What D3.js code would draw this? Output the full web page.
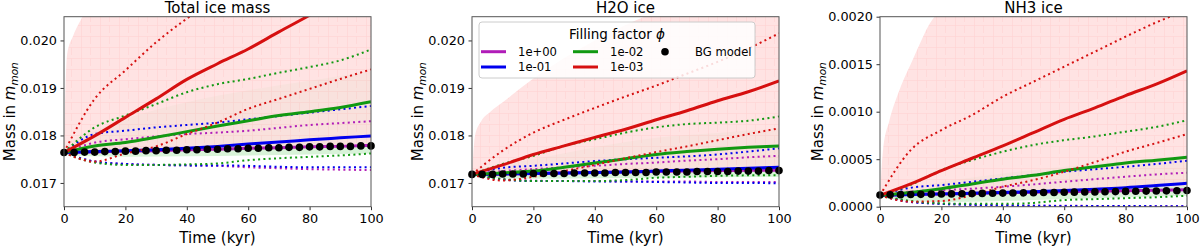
<!DOCTYPE html>
<html>
<head>
<meta charset="utf-8">
<script src="https://cdn.jsdelivr.net/npm/d3@7"></script>
<style>
  body { margin: 0; background: #fff; }
  svg { display: block; font-family: "DejaVu Sans", sans-serif; }
</style>
</head>
<body>
<svg id="chart" width="1200" height="246"></svg>
<script>
// ---- data ----
var time = [0, 10, 20, 30, 40, 50, 60, 70, 80, 90, 100];
var bgTime = [0, 3.3, 6.7, 10, 13.3, 16.7, 20, 23.3, 26.7, 30, 33.3, 36.7, 40, 43.3, 46.7, 50,
              53.3, 56.7, 60, 63.3, 66.7, 70, 73.3, 76.7, 80, 83.3, 86.7, 90, 93.3, 96.7, 100];
var envTime = [0, 1, 3, 6, 10, 20, 40, 60, 80, 100];

var phiLabels = ['1e+00', '1e-01', '1e-02', '1e-03'];
var phiColors = ['#b01cb8', '#0000ee', '#119911', '#d61010'];

// Total ice mass
var totalMed = [
  [0.01764, 0.01765, 0.01767, 0.01768, 0.01770, 0.01771, 0.01773, 0.01774, 0.01776, 0.01777, 0.01779],
  [0.01764, 0.01766, 0.01768, 0.01770, 0.01773, 0.01777, 0.01782, 0.01786, 0.01791, 0.01795, 0.01799],
  [0.01764, 0.01778, 0.01785, 0.01796, 0.01808, 0.01820, 0.01831, 0.01842, 0.01850, 0.01859, 0.01871],
  [0.01764, 0.01799, 0.01838, 0.01877, 0.01918, 0.01951, 0.01982, 0.02018, 0.02053, 0.02090, 0.02130]
];
var totalHigh = [
  [0.01764, 0.01785, 0.01792, 0.01798, 0.01803, 0.01806, 0.01810, 0.01816, 0.01822, 0.01826, 0.01830],
  [0.01764, 0.01803, 0.01810, 0.01817, 0.01822, 0.01827, 0.01834, 0.01841, 0.01848, 0.01855, 0.01862],
  [0.01764, 0.01817, 0.01842, 0.01866, 0.01891, 0.01908, 0.01919, 0.01932, 0.01944, 0.01958, 0.01981],
  [0.01764, 0.01877, 0.01937, 0.01996, 0.02046, 0.02090, 0.02130, 0.02170, 0.02200, 0.02230, 0.02260]
];
var totalLow = [
  [0.01764, 0.01745, 0.01740, 0.01738, 0.01737, 0.01736, 0.01733, 0.01731, 0.01729, 0.01728, 0.01727],
  [0.01764, 0.01745, 0.01740, 0.01738, 0.01737, 0.01737, 0.01736, 0.01734, 0.01733, 0.01733, 0.01733],
  [0.01764, 0.01743, 0.01738, 0.01738, 0.01739, 0.01741, 0.01748, 0.01752, 0.01755, 0.01758, 0.01762],
  [0.01764, 0.01745, 0.01762, 0.01777, 0.01803, 0.01827, 0.01856, 0.01877, 0.01898, 0.01919, 0.01939]
];
var totalBG = [0.01764, 0.01764, 0.01765, 0.01765, 0.01766, 0.01766, 0.01767, 0.01767, 0.01768, 0.01768,
               0.01769, 0.01769, 0.01770, 0.01770, 0.01771, 0.01771, 0.01772, 0.01772, 0.01773, 0.01773,
               0.01774, 0.01774, 0.01775, 0.01775, 0.01776, 0.01776, 0.01777, 0.01777, 0.01777, 0.01778, 0.01778];
var totalPinkHi = [0.01764, 0.01970, 0.02010, 0.02050, 0.02100, 0.02100, 0.02100, 0.02100, 0.02100, 0.02100];
var totalPinkLo = [0.01764, 0.01764, 0.01765, 0.01765, 0.01766, 0.01768, 0.01771, 0.01774, 0.01777, 0.01780];
var totalGreenHi = [0.01764, 0.01780, 0.01790, 0.01800, 0.01810, 0.01835, 0.01870, 0.01895, 0.01915, 0.01935];
var totalGreenLo = [0.01764, 0.01760, 0.01758, 0.01757, 0.01756, 0.01755, 0.01756, 0.01758, 0.01760, 0.01762];

// H2O ice
var h2oMed = [
  [0.01718, 0.01719, 0.01720, 0.01721, 0.01722, 0.01723, 0.01724, 0.01725, 0.01726, 0.01727, 0.01727],
  [0.01718, 0.01719, 0.01720, 0.01721, 0.01722, 0.01723, 0.01725, 0.01727, 0.01729, 0.01731, 0.01733],
  [0.01718, 0.01721, 0.01725, 0.01733, 0.01742, 0.01751, 0.01760, 0.01766, 0.01771, 0.01775, 0.01778],
  [0.01718, 0.01738, 0.01760, 0.01778, 0.01796, 0.01813, 0.01833, 0.01852, 0.01873, 0.01892, 0.01915]
];
var h2oHigh = [
  [0.01718, 0.01725, 0.01729, 0.01733, 0.01736, 0.01740, 0.01743, 0.01747, 0.01750, 0.01754, 0.01757],
  [0.01718, 0.01732, 0.01736, 0.01741, 0.01746, 0.01750, 0.01753, 0.01756, 0.01760, 0.01766, 0.01773],
  [0.01718, 0.01740, 0.01757, 0.01778, 0.01792, 0.01806, 0.01817, 0.01824, 0.01827, 0.01831, 0.01840],
  [0.01718, 0.01768, 0.01806, 0.01833, 0.01858, 0.01882, 0.01905, 0.01930, 0.01955, 0.01983, 0.02015]
];
var h2oLow = [
  [0.01718, 0.01708, 0.01705, 0.01704, 0.01704, 0.01703, 0.01703, 0.01703, 0.01702, 0.01702, 0.01702],
  [0.01718, 0.01707, 0.01704, 0.01704, 0.01703, 0.01703, 0.01702, 0.01701, 0.01700, 0.01700, 0.01699],
  [0.01718, 0.01708, 0.01704, 0.01704, 0.01704, 0.01706, 0.01711, 0.01713, 0.01715, 0.01716, 0.01716],
  [0.01718, 0.01705, 0.01713, 0.01725, 0.01738, 0.01752, 0.01765, 0.01777, 0.01790, 0.01803, 0.01815]
];
var h2oBG = [0.01718, 0.01718, 0.01718, 0.01719, 0.01719, 0.01719, 0.01720, 0.01720, 0.01720, 0.01720,
             0.01721, 0.01721, 0.01721, 0.01721, 0.01722, 0.01722, 0.01722, 0.01722, 0.01723, 0.01723,
             0.01723, 0.01723, 0.01724, 0.01724, 0.01724, 0.01724, 0.01725, 0.01725, 0.01725, 0.01726, 0.01726];
var h2oPinkHi = [0.01718, 0.01800, 0.01830, 0.01850, 0.01870, 0.01920, 0.02000, 0.02060, 0.02100, 0.02100];
var h2oPinkLo = [0.01718, 0.01718, 0.01719, 0.01719, 0.01720, 0.01722, 0.01724, 0.01726, 0.01728, 0.01730];
var h2oGreenHi = [0.01718, 0.01725, 0.01730, 0.01735, 0.01740, 0.01750, 0.01775, 0.01795, 0.01805, 0.01815];
var h2oGreenLo = [0.01718, 0.01714, 0.01712, 0.01711, 0.01710, 0.01709, 0.01710, 0.01711, 0.01712, 0.01713];

// NH3 ice
var nh3Med = [
  [0.000120, 0.000128, 0.000134, 0.000140, 0.000146, 0.000152, 0.000158, 0.000163, 0.000168, 0.000173, 0.000178],
  [0.000120, 0.000128, 0.000135, 0.000142, 0.000150, 0.000158, 0.000170, 0.000185, 0.000200, 0.000222, 0.000246],
  [0.000120, 0.000150, 0.000190, 0.000240, 0.000290, 0.000330, 0.000380, 0.000420, 0.000460, 0.000490, 0.000520],
  [0.000120, 0.000240, 0.000380, 0.000510, 0.000640, 0.000780, 0.000920, 0.001040, 0.001170, 0.001290, 0.001430]
];
var nh3High = [
  [0.000120, 0.000160, 0.000175, 0.000190, 0.000210, 0.000235, 0.000263, 0.000290, 0.000316, 0.000340, 0.000358],
  [0.000120, 0.000200, 0.000228, 0.000262, 0.000298, 0.000333, 0.000368, 0.000395, 0.000420, 0.000450, 0.000484],
  [0.000120, 0.000230, 0.000386, 0.000490, 0.000579, 0.000650, 0.000700, 0.000740, 0.000790, 0.000840, 0.000910],
  [0.000120, 0.000596, 0.000807, 0.000965, 0.001158, 0.001316, 0.001474, 0.001632, 0.001790, 0.001940, 0.002070]
];
var nh3Low = [
  [0.000120, 0.000050, 0.000030, 0.000020, 0.000015, 0.000010, 0.000010, 0.000008, 0.000006, 0.000005, 0.000005],
  [0.000120, 0.000050, 0.000030, 0.000020, 0.000015, 0.000010, 0.000008, 0.000007, 0.000007, 0.000006, 0.000006],
  [0.000120, 0.000060, 0.000035, 0.000030, 0.000030, 0.000040, 0.000070, 0.000080, 0.000090, 0.000100, 0.000116],
  [0.000120, 0.000053, 0.000060, 0.000120, 0.000210, 0.000280, 0.000368, 0.000470, 0.000579, 0.000670, 0.000765]
];
var nh3BG = [0.000123, 0.000125, 0.000127, 0.000128, 0.000130, 0.000132, 0.000133, 0.000135, 0.000137, 0.000138,
             0.000140, 0.000141, 0.000143, 0.000144, 0.000146, 0.000147, 0.000149, 0.000150, 0.000152, 0.000153,
             0.000155, 0.000156, 0.000158, 0.000159, 0.000161, 0.000162, 0.000164, 0.000165, 0.000167, 0.000168, 0.000170];
var nh3PinkHi = [0.000120, 0.000600, 0.000900, 0.001200, 0.001500, 0.002050, 0.002100, 0.002100, 0.002100, 0.002100];
var nh3PinkLo = [0.000120, 0.000122, 0.000126, 0.000130, 0.000135, 0.000150, 0.000170, 0.000185, 0.000200, 0.000215];
var nh3GreenHi = [0.000120, 0.000140, 0.000160, 0.000180, 0.000200, 0.000260, 0.000350, 0.000420, 0.000480, 0.000540];
var nh3GreenLo = [0.000120, 0.000100, 0.000080, 0.000070, 0.000060, 0.000050, 0.000060, 0.000080, 0.000100, 0.000115];

var yTicksIce = [0.017, 0.018, 0.019, 0.020];
var yTicksNH3 = [0, 0.0005, 0.0010, 0.0015, 0.0020];
var xTicks = [0, 20, 40, 60, 80, 100];

// ---- layout ----
var plotTop = 16.7, plotBottom = 206.7;
var panels = [
  { title: 'Total ice mass', left: 64, right: 371, labelX: 15, domain: [0.0165, 0.0205], ticks: yTicksIce, fmt: '.3f',
    med: totalMed, high: totalHigh, low: totalLow, bg: totalBG,
    pinkHi: totalPinkHi, pinkLo: totalPinkLo, greenHi: totalGreenHi, greenLo: totalGreenLo },
  { title: 'H2O ice', left: 472, right: 779, labelX: 423, domain: [0.0165, 0.0205], ticks: yTicksIce, fmt: '.3f',
    med: h2oMed, high: h2oHigh, low: h2oLow, bg: h2oBG,
    pinkHi: h2oPinkHi, pinkLo: h2oPinkLo, greenHi: h2oGreenHi, greenLo: h2oGreenLo, legend: true },
  { title: 'NH3 ice', left: 880, right: 1187, labelX: 823, domain: [0, 0.002], ticks: yTicksNH3, fmt: '.4f',
    med: nh3Med, high: nh3High, low: nh3Low, bg: nh3BG,
    pinkHi: nh3PinkHi, pinkLo: nh3PinkLo, greenHi: nh3GreenHi, greenLo: nh3GreenLo }
];

var svg = d3.select('#chart');

// fine step-line texture standing in for the hundreds of faint single runs
var pat = svg.append('defs').append('pattern')
  .attr('id', 'runs').attr('patternUnits', 'userSpaceOnUse')
  .attr('width', 19).attr('height', 11);
pat.append('rect').attr('width', 19).attr('height', 11).attr('fill', '#ffdede');
pat.append('path').attr('d', 'M0,3.5H19M5.5,0V11M14.5,3.5V11')
  .attr('stroke', '#ffcdcd').attr('stroke-width', 0.7).attr('fill', 'none');

panels.forEach(function(p, pi) {
  var x = d3.scaleLinear().domain([0, 100]).range([p.left, p.right]);
  var y = d3.scaleLinear().domain(p.domain).range([plotBottom, plotTop]);

  svg.append('clipPath').attr('id', 'clip' + pi)
    .append('rect')
    .attr('x', p.left).attr('y', plotTop)
    .attr('width', p.right - p.left).attr('height', plotBottom - plotTop);

  var g = svg.append('g').attr('clip-path', 'url(#clip' + pi + ')');

  var band = function(hi, lo) {
    return d3.area()
      .x(function(d, i) { return x(envTime[i]); })
      .y0(function(d, i) { return y(lo[i]); })
      .y1(function(d, i) { return y(hi[i]); })
      .curve(d3.curveMonotoneX)(hi);
  };
  g.append('path').attr('d', band(p.greenHi, p.greenLo))
    .attr('fill', '#d8f3d8');
  g.append('path').attr('d', band(p.pinkHi, p.pinkLo))
    .attr('fill', 'url(#runs)').attr('opacity', 0.85);

  var line = d3.line()
    .x(function(d, i) { return x(time[i]); })
    .y(function(d) { return y(d); })
    .curve(d3.curveMonotoneX);

  for (var k = 0; k < 4; k++) {
    [p.high[k], p.low[k]].forEach(function(vals) {
      g.append('path').attr('d', line(vals))
        .attr('fill', 'none')
        .attr('stroke', phiColors[k])
        .attr('stroke-width', 2)
        .attr('stroke-dasharray', '2,3.3');
    });
    g.append('path').attr('d', line(p.med[k]))
      .attr('fill', 'none')
      .attr('stroke', phiColors[k])
      .attr('stroke-width', 3);
  }

  svg.append('g').selectAll('circle')
    .data(p.bg)
    .enter().append('circle')
    .attr('cx', function(d, i) { return x(bgTime[i]); })
    .attr('cy', function(d) { return y(d); })
    .attr('r', 3.8)
    .attr('fill', '#000');

  // axes
  var xAxis = svg.append('g')
    .attr('transform', 'translate(0,' + plotBottom + ')')
    .call(d3.axisBottom(x).tickValues(xTicks).tickSize(3.5).tickPadding(3.5));
  var yAxis = svg.append('g')
    .attr('transform', 'translate(' + p.left + ',0)')
    .call(d3.axisLeft(y).tickValues(p.ticks).tickFormat(d3.format(p.fmt)).tickSize(3.5).tickPadding(3.5));
  [xAxis, yAxis].forEach(function(a) {
    a.select('.domain').remove();
    a.selectAll('line').attr('stroke', '#333');
    a.selectAll('text').attr('font-size', 12.8).attr('fill', '#000')
      .attr('font-family', '"DejaVu Sans", sans-serif');
  });

  svg.append('rect')
    .attr('x', p.left).attr('y', plotTop)
    .attr('width', p.right - p.left).attr('height', plotBottom - plotTop)
    .attr('fill', 'none').attr('stroke', '#555').attr('stroke-width', 1);

  svg.append('text')
    .attr('x', (p.left + p.right) / 2).attr('y', 12.5)
    .attr('text-anchor', 'middle').attr('font-size', 15)
    .text(p.title);

  svg.append('text')
    .attr('x', (p.left + p.right) / 2).attr('y', 243)
    .attr('text-anchor', 'middle').attr('font-size', 15)
    .text('Time (kyr)');

  var yl = svg.append('text')
    .attr('transform', 'translate(' + p.labelX + ',' + ((plotTop + plotBottom) / 2) + ') rotate(-90)')
    .attr('text-anchor', 'middle').attr('font-size', 15);
  yl.append('tspan').text('Mass in ');
  yl.append('tspan').attr('font-style', 'italic').text('m');
  yl.append('tspan').attr('font-style', 'italic').attr('font-size', 10.5).attr('dy', 3).text('mon');

  if (p.legend) {
    var lg = svg.append('g');
    lg.append('rect')
      .attr('x', 479).attr('y', 22).attr('width', 276).attr('height', 56).attr('rx', 3)
      .attr('fill', '#fff').attr('fill-opacity', 0.85)
      .attr('stroke', '#ccc').attr('stroke-width', 1);
    var lt = lg.append('text').attr('x', 617).attr('y', 38.5)
      .attr('text-anchor', 'middle').attr('font-size', 13.5);
    lt.append('tspan').text('Filling factor ');
    lt.append('tspan').attr('font-style', 'italic').text('\u03d5');
    var colX = [481, 573];
    var rowY = [51.7, 67];
    phiLabels.forEach(function(lab, i) {
      var cx = colX[Math.floor(i / 2)], cy = rowY[i % 2];
      lg.append('line').attr('x1', cx).attr('x2', cx + 25).attr('y1', cy).attr('y2', cy)
        .attr('stroke', phiColors[i]).attr('stroke-width', 3);
      lg.append('text').attr('x', cx + 37).attr('y', cy + 4.2)
        .attr('font-size', 11.6).text(lab);
    });
    lg.append('circle').attr('cx', 665).attr('cy', 51.7).attr('r', 3.8).attr('fill', '#000');
    lg.append('text').attr('x', 695).attr('y', 55.9).attr('font-size', 11.6).text('BG model');
  }
});
</script>
</body>
</html>
